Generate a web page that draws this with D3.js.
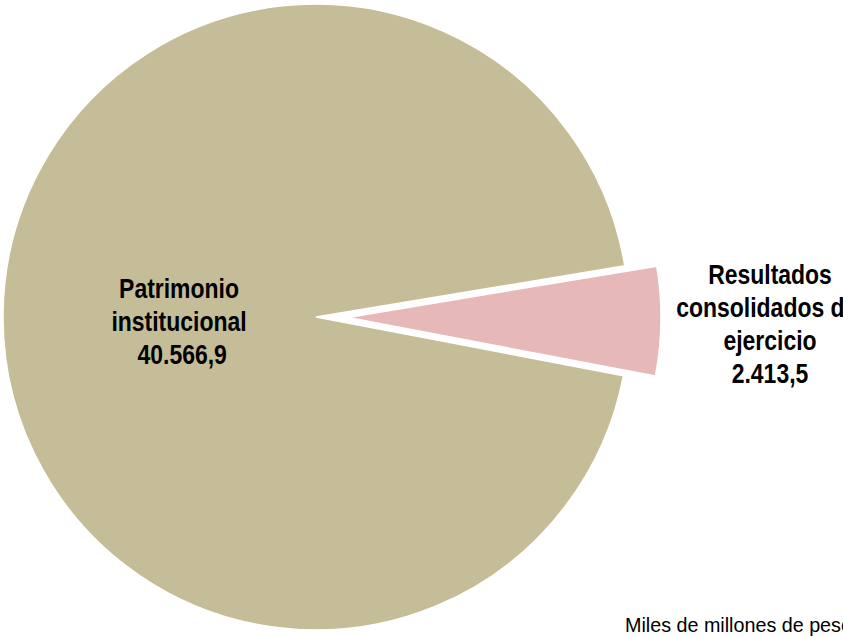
<!DOCTYPE html>
<html>
<head>
<meta charset="utf-8">
<script src="https://cdn.jsdelivr.net/npm/d3@7"></script>
<style>
  html, body { margin: 0; padding: 0; background: #fff; overflow: hidden; }
  svg { display: block; }
  .lbl { font-family: "Liberation Sans", Arial, sans-serif; font-weight: bold; fill: #000; }
  .note { font-family: "Liberation Sans", Arial, sans-serif; fill: #000; }
</style>
</head>
<body>
<svg id="chart" width="843" height="637"></svg>
<script>
// Data
const categories = ["Patrimonio institucional", "Resultados consolidados del ejercicio"];
const values = [40566.9, 2413.5];
const valueLabels = ["40.566,9", "2.413,5"];
const labelLines = [["Patrimonio", "institucional", "\u00a040.566,9"], ["Resultados", "consolidados del", "ejercicio", "2.413,5"]];
const colors = ["#C4BD97", "#E6B9B8"];
const note = "Miles de millones de pesos";

const W = 843, H = 637;
const cx = 316, cy = 317, R = 313;
const explode = [0, 32];
const deg = Math.PI / 180;

const svg = d3.select("#chart");
const data = categories.map((c, i) => ({ name: c, value: values[i], i }));

const pie = d3.pie().value(d => d.value).sort(null)
  .startAngle(100.8 * deg).endAngle(100.8 * deg + 2 * Math.PI);
const arcs = pie(data);
const arc = d3.arc().innerRadius(0).outerRadius(R);

const g = svg.append("g").attr("transform", `translate(${cx},${cy})`);
g.selectAll("path").data(arcs).join("path")
  .attr("d", arc)
  .attr("fill", d => colors[d.data.i])
  .attr("stroke", "#fff")
  .attr("stroke-width", 1.5)
  .attr("stroke-linejoin", "miter")
  .attr("transform", d => {
    const m = (d.startAngle + d.endAngle) / 2;
    const o = explode[d.data.i];
    return `translate(${o * Math.sin(m)},${-o * Math.cos(m)})`;
  });

// Labels (condensed look via horizontal scale)
const labelPos = [{ x: 179, y: 298 }, { x: 770, y: 284 }];
const lineH = 33;
const sx = 0.82;
labelLines.forEach((lines, i) => {
  const lg = svg.append("g").attr("transform", `translate(${labelPos[i].x},${labelPos[i].y}) scale(${sx},1)`);
  const t = lg.append("text").attr("class", "lbl")
    .attr("text-anchor", "middle")
    .attr("font-size", 28);
  lines.forEach((ln, k) => {
    t.append("tspan").attr("x", 0).attr("y", k * lineH).text(ln);
  });
});

svg.append("g").attr("transform", "translate(625,632) scale(0.94,1)")
  .append("text").attr("class", "note")
  .attr("x", 0).attr("y", 0)
  .attr("font-size", 21)
  .text(note);
</script>
</body>
</html>
